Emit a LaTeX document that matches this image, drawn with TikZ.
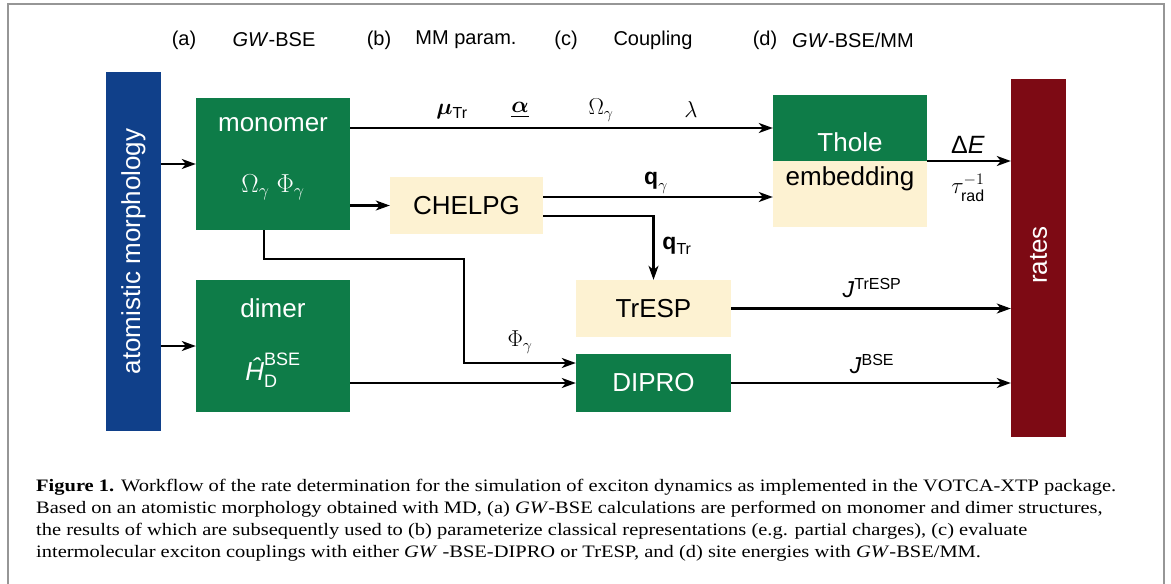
\RequirePackage{fix-cm}
\documentclass[tikz,border=0pt]{standalone}
\usepackage{amsmath,bm}
\usepackage[no-math]{fontspec}
\setmainfont{Liberation Serif}
\setsansfont{Liberation Sans}
\newfontfamily\capfont{Liberation Serif}[FakeStretch=1.17]
\usetikzlibrary{arrows.meta}
\definecolor{cblue}{RGB}{16,64,138}
\definecolor{cgreen}{RGB}{14,124,72}
\definecolor{ccream}{RGB}{253,242,210}
\definecolor{cred}{RGB}{125,10,20}
\definecolor{cframe}{RGB}{150,150,150}
\newcommand{\sft}[1]{\text{\sffamily #1}}
\DeclareMathSizes{26}{26}{18}{13}
\DeclareMathSizes{23}{23}{16}{12}
\DeclareMathSizes{25}{25}{17.5}{12.5}
\begin{document}
\begin{tikzpicture}[x=1pt,y=-1pt,
  box/.style={draw=none,minimum width=154pt,inner sep=0pt,font=\sffamily\fontsize{26}{30}\selectfont},
  gbox/.style={box,fill=cgreen,text=white},
  cbox/.style={box,fill=ccream,text=black},
  bar/.style={draw=none,minimum width=55pt,inner sep=0pt,text=white,font=\sffamily\fontsize{26}{30}\selectfont},
  intext/.style={inner sep=0pt,font=\sffamily\fontsize{26}{30}\selectfont},
  arr/.style={line width=2.1pt,-{Stealth[length=14pt,width=10pt,inset=4pt]}},
  lab/.style={font=\sffamily\fontsize{23}{26}\selectfont,inner sep=0pt},
  hdr/.style={font=\sffamily\fontsize{20}{24}\selectfont,inner sep=0pt},
  captxt/.style={anchor=base west,inner sep=0pt,font=\capfont\fontsize{17.5}{21}\selectfont}]
\useasboundingbox (0,0) rectangle (1171,584);
\fill[white] (0,0) rectangle (1171,584);
\draw[cframe,line width=2pt] (8,590) -- (8,4) -- (1164,4) -- (1164,590);

% header
\node[hdr] (ha) at (184,40) {(a)};
\node[hdr] (hab) at (274,40) {\textit{GW}-BSE};
\node[hdr] (hb) at (379,40) {(b)};
\node[hdr] (hbb) at (466,40) {MM param.};
\node[hdr] (hc) at (566,40) {(c)};
\node[hdr] (hcb) at (653,40) {Coupling};
\node[hdr] (hd) at (765,40) {(d)};
\node[hdr] (hdb) at (853,40) {\textit{GW}-BSE/MM};

% bars
\node[bar,fill=cblue,minimum height=359pt] (blue) at (133.5,251.5) {};
\node[intext,rotate=90,text=white] (bluet) at (blue.center) {atomistic morphology};
\node[bar,fill=cred,minimum height=358pt] (rates) at (1038.5,258) {};
\node[intext,rotate=90,text=white] (ratest) at ([yshift=3pt]rates.center) {rates};

% boxes
\node[gbox,minimum height=132pt] (mono) at (273,164) {};
\node[intext,text=white] (monot) at (273,125) {monomer};
\node[intext,text=white,font=\fontsize{26}{30}\selectfont] (monom) at (273,187) {$\Omega_\gamma\;\Phi_\gamma$};
\node[gbox,minimum height=132pt] (dimer) at (273,346) {};
\node[intext,text=white] (dimert) at (273,308) {dimer};
\node[intext,text=white] (dimerm) at (273,370) {$\text{\sffamily\itshape Ĥ}^{\sft{BSE}}_{\sft{D}}$};
\node[cbox,minimum width=153pt,minimum height=57pt] (chelpg) at (466.5,205.5) {CHELPG};
\node[cbox,minimum width=155pt,minimum height=57pt] (tresp) at (653.5,308.5) {TrESP};
\node[gbox,minimum width=155pt,minimum height=58pt] (dipro) at (653.5,383) {DIPRO};
\node[cbox,minimum height=132pt] (thole) at (850,161) {};
\fill[cgreen] (thole.north west) rectangle ([yshift=-66pt]thole.north east);
\node[intext,text=white] (tholet) at (850,142) {Thole};
\node[intext,text=black] (tholeb) at (850,179) {embedding};

% connectors
\coordinate (cq) at ([yshift=8.5pt]chelpg.east);
\coordinate (ct) at ([yshift=-10.5pt]chelpg.east);
\coordinate (mt) at ([yshift=36pt]mono.east);
\draw[arr] (blue.east |- mono.west) -- (mono.west);
\draw[arr] (blue.east |- dimer.west) -- (dimer.west);
\draw[arr] (mt) -- (thole.west |- mt);
\draw[arr] (mono.east |- chelpg.west) -- (chelpg.west);
\draw[arr] (cq) -- (thole.west |- cq);
\draw[arr] (ct) -| (tresp.north);
\draw[arr] (thole.east) -- (rates.west |- thole.east);
\draw[arr] (tresp.east) -- (rates.west |- tresp.east);
\draw[arr] (dipro.east) -- (rates.west |- dipro.east);
\draw[arr] (dimer.east |- dipro.west) -- (dipro.west);
\coordinate (bend) at (464,259);
\draw[arr] ([xshift=-9pt]mono.south) |- (bend) |- ([yshift=20pt]dipro.west);

% labels
\node[lab] (lmu) at (452,112) {$\bm{\mu}_{\sft{Tr}}$};
\node[lab] (lal) at (520,110) {$\underline{\bm{\alpha}}$};
\node[lab] (lom) at (601,110) {$\Omega_\gamma$};
\node[lab] (lla) at (691,110) {$\lambda$};
\node[lab] (lqg) at (656,183) {$\textbf{q}_\gamma$};
\node[lab] (lqt) at (677,246) {$\textbf{q}_{\sft{Tr}}$};
\node[lab,font=\sffamily\fontsize{25}{28}\selectfont] (lde) at (968,145) {Δ\textit{E}};
\node[lab] (ltau) at (968,188) {$\tau^{-1}_{\sft{rad}}$};
\node[lab] (ljt) at (872,288) {\textit{J}\textsuperscript{TrESP}};
\node[lab] (ljb) at (872,364) {\textit{J}\textsuperscript{BSE}};
\node[lab] (lph) at (520,342) {$\Phi_\gamma$};

% caption
\node[captxt] (c1) at (36,491) {\textbf{Figure 1.} Workflow of the rate determination for the simulation of exciton dynamics as implemented in the VOTCA-XTP package.};
\node[captxt] (c2) at (36,513) {Based on an atomistic morphology obtained with MD, (a) \textit{GW}-BSE calculations are performed on monomer and dimer structures,};
\node[captxt] (c3) at (36,535) {the results of which are subsequently used to (b) parameterize classical representations (e.g. partial charges), (c) evaluate};
\node[captxt] (c4) at (36,557) {intermolecular exciton couplings with either \textit{GW} -BSE-DIPRO or TrESP, and (d) site energies with \textit{GW}-BSE/MM.};
\end{tikzpicture}
\end{document}
